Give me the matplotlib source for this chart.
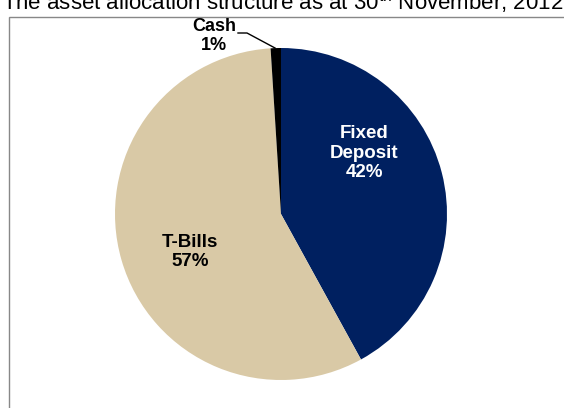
import matplotlib
matplotlib.use('Agg')
import matplotlib.pyplot as plt
from matplotlib.patches import Rectangle

plt.rcParams['font.family'] = ['Liberation Sans', 'DejaVu Sans']

labels = ['Fixed\nDeposit', 'T-Bills', 'Cash']
shares = [42, 57, 1]
colors = ['#002060', '#D9C9A6', '#000000']

W, H = 564, 408
fig = plt.figure(figsize=(W / 100, H / 100), dpi=100)
ax = fig.add_axes([0, 0, 1, 1])

# chart frame
ax.add_patch(Rectangle((8.5, -5), 600, H - 16.5 + 5, fill=False,
                       edgecolor='#888888', linewidth=1.0))

wedges, _ = ax.pie(shares, colors=colors, startangle=90, counterclock=False,
                   center=(281, H - 214), radius=166, frame=True)
ax.set_xlim(0, W)
ax.set_ylim(0, H)
ax.set_aspect('equal')
ax.axis('off')

# data labels
ax.text(364, H - 153, '%s\n%d%%' % (labels[0], shares[0]), color='white',
        fontsize=13.5, fontweight='bold', ha='center', va='center', linespacing=1.22)
ax.text(190, H - 252, '%s\n%d%%' % (labels[1], shares[1]), color='black',
        fontsize=13.5, fontweight='bold', ha='center', va='center', linespacing=1.22)
ax.text(214, H - 36, '%s\n%d%%' % (labels[2], shares[2]), color='black',
        fontsize=13, fontweight='bold', ha='center', va='center', linespacing=1.2)
ax.plot([238, 247, 275], [H - 33, H - 33, H - 48], color='black', linewidth=1)

# title (cut off at top edge)
fig.text(2 / W, (H - 10) / H,
         r'The asset allocation structure as at 30$^{\mathregular{th}}$ November, 2012',
         fontsize=16, ha='left', va='baseline')

fig.savefig('out.png', dpi=100)
